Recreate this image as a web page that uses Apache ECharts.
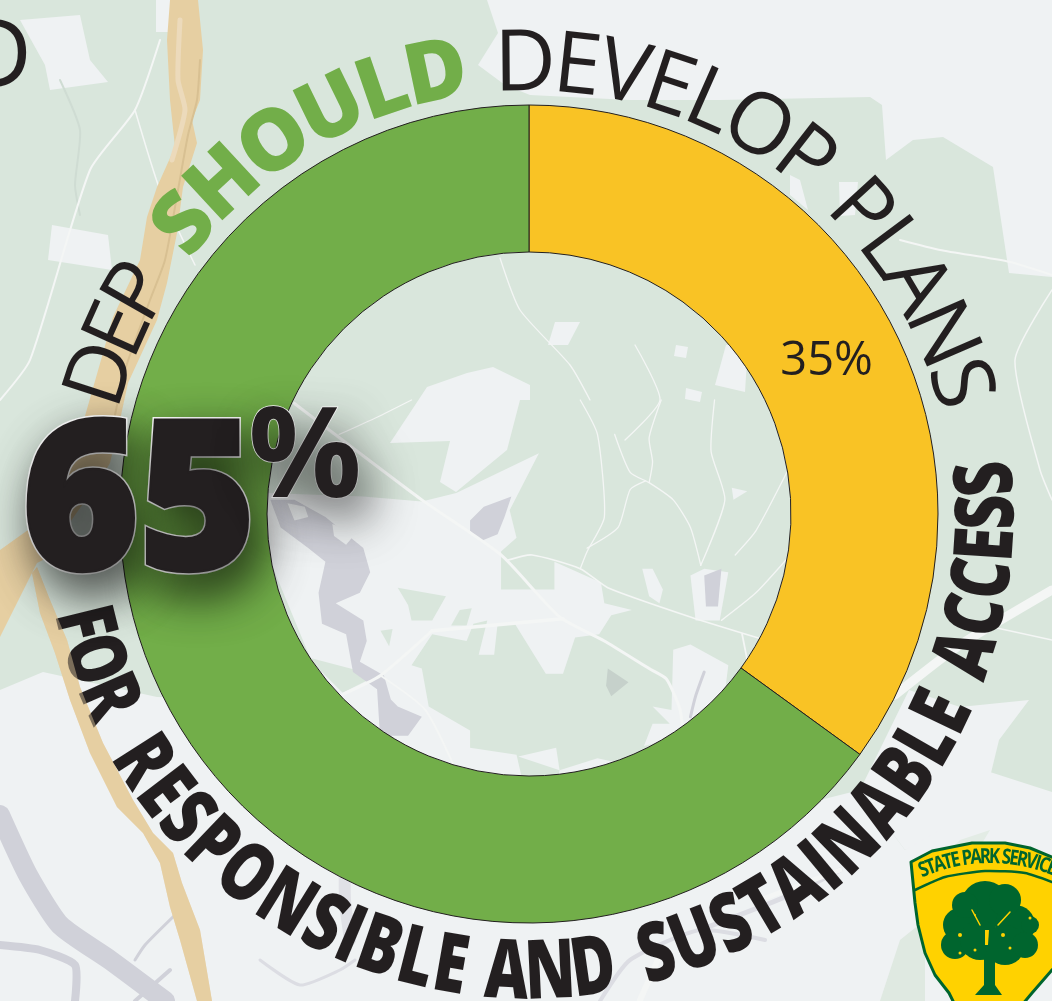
<!DOCTYPE html>
<html><head><meta charset="utf-8">
<style>html,body{margin:0;padding:0;background:#eff2f4;overflow:hidden}#c{width:1052px;height:1001px}</style>
<script src="https://cdn.jsdelivr.net/npm/echarts@6/dist/echarts.min.js"></script>
</head><body><div id="c"></div>
<script>
const categories = ['DEP should not', 'DEP should'];
const values = [35, 65];
const sliceColors = ['#f9c325', '#72ae49'];
const FACE = "'Open Sans'";
const cx = 529, cy = 514;
const ink = '#231f20';
const land = '#d9e6dc', pale = '#eff2f3', water = '#d0d1d9', tan = '#e6cfa2', leaf = '#00652e', gold = '#ffd200';

const g = [];
const ctx = document.createElement('canvas').getContext('2d');
function poly(points, fill, z, extra) {
  g.push({ type: 'polygon', silent: true, z: z === undefined ? -5 : z, shape: Object.assign({ points }, extra && extra.shape), style: Object.assign({ fill }, extra && extra.style) });
}
function line(points, stroke, lineWidth, z) {
  g.push({ type: 'polyline', silent: true, z: z === undefined ? -4 : z, shape: { points, smooth: 0.2 }, style: { fill: null, stroke, lineWidth, lineCap: 'round', lineJoin: 'round' } });
}
function circle(x, y, r, fill, z) {
  g.push({ type: 'circle', silent: true, z, shape: { cx: x, cy: y, r }, style: { fill } });
}
// The map inside the ring was traced on a 2.904x enlargement anchored at (260,400).
const hole = pts => pts.map(p => [260 + p[0] / 2.904, 400 + p[1] / 2.904]);
function arcWord(word, o) {
  const font = `${o.weight} ${o.size}px ${o.family}`;
  ctx.font = font;
  const sx = o.scaleX || 1;
  const adv = [...word].map(ch => ctx.measureText(ch).width * sx);
  const total = adv.reduce((s, v) => s + v, 0);
  let pos = 0;
  const ccx = o.cx === undefined ? cx : o.cx, ccy = o.cy === undefined ? cy : o.cy;
  [...word].forEach((ch, i) => {
    const t = (pos + adv[i] / 2) / total;
    const a = (o.a + (o.b - o.a) * t) * Math.PI / 180;
    pos += adv[i];
    const x = ccx + o.r * Math.sin(a);
    const y = o.below ? ccy + o.r * Math.cos(a) : ccy - o.r * Math.cos(a);
    g.push({ type: 'text', silent: true, z: o.z || 20, x, y, rotation: o.below ? a : -a, scaleX: sx,
      style: { text: ch, font, fill: o.fill, textAlign: 'center', textVerticalAlign: 'middle', verticalAlign: 'middle' } });
  });
}

/* ---------- map backdrop ---------- */
poly([[0,0],[487,0],[498,33],[478,65],[505,85],[530,95],[630,100],[720,100],[870,97],[882,105],[886,160],[913,140],[943,137],[993,167],[1009,273],[1052,277],[1052,792],[990,772],[960,800],[905,850],[860,790],[820,800],[600,850],[300,700],[157,697],[43,672],[0,690]], land);
// clearings outside the ring
poly([[20,20],[80,15],[90,60],[108,82],[50,90],[45,65]], pale);
poly([[52,225],[108,235],[112,270],[48,260]], pale);
poly([[156,0],[170,0],[170,32],[156,32]], pale);
poly([[1000,110],[1020,120],[1020,140],[1000,130]], pale);
poly([[839,182],[858,182],[855,215],[840,216]], pale);
poly([[790,175],[800,180],[808,210],[790,195]], pale);
poly([[909,690],[960,707],[1029,700],[999,740],[990,777],[940,830],[905,850],[860,790]], pale);
poly([[926,875],[960,840],[990,830],[960,880],[930,900]], '#e3ece5');
poly([[880,1001],[900,940],[925,920],[925,1001]], '#dfe9e1');
// clearings seen through the ring
poly([[390,443],[427,387],[467,373],[493,367],[530,385],[530,400],[520,400],[507,450],[456,492],[440,482],[450,441]], pale);
poly(hole([[20,270],[300,280],[470,295],[570,270],[810,155],[725,320],[745,400],[700,440],[700,550],[855,550],[855,470],[990,530],[1000,590],[1080,610],[1020,625],[985,680],[915,690],[880,795],[830,795],[740,650],[690,650],[680,740],[635,740],[660,640],[620,650],[600,700],[500,680],[440,770],[470,780],[490,890],[610,960],[610,1010],[745,1030],[770,1140],[400,1080],[200,880],[10,420]]), pale);
poly(hole([[860,1130],[870,1075],[980,1040],[1070,1060],[980,1110]]), pale);
poly(hole([[750,1035],[860,1010],[870,1075]]), pale);
poly(hole([[1115,1005],[1140,940],[1190,940],[1140,890],[1195,900],[1200,725],[1250,710],[1360,770],[1350,850],[1290,960]]), pale);
poly(hole([[1250,510],[1290,490],[1360,500],[1335,640],[1265,640]]), pale);
poly(hole([[1110,490],[1140,490],[1170,550],[1160,590],[1130,570]]), pale);
poly(hole([[830,700],[850,700],[850,760],[830,750]]), pale);
poly(hole([[1370,255],[1415,265],[1375,290]]), pale);
poly([[726,345],[748,345],[745,392],[715,385]], pale);
poly([[676,345],[688,347],[686,358],[674,356]], pale);
poly([[686,388],[702,392],[700,402],[685,399]], pale);
poly([[555,322],[580,322],[568,345],[548,345]], pale);
// green islands in the clearing
poly(hole([[400,545],[540,570],[500,640],[440,640],[430,595]]), land);
poly(hole([[350,670],[385,665],[375,715]]), land);
poly(hole([[130,745],[340,800],[240,850],[190,800]]), land);
poly(hole([[580,610],[615,605],[600,655],[555,655]]), land);
poly(hole([[445,765],[498,685],[470,770]]), land);
// water
poly(hole([[30,290],[100,290],[190,340],[300,430],[320,500],[290,560],[220,590],[300,640],[310,700],[290,760],[360,800],[380,870],[400,890],[470,920],[430,975],[380,975],[350,1000],[340,840],[270,790],[250,680],[180,650],[170,560],[190,470],[140,430],[60,370]]), water);
poly(hole([[610,350],[650,310],[730,280],[710,340],[690,390],[640,410],[610,380]]), water);
poly(hole([[1290,510],[1340,490],[1330,600],[1295,600]]), water);
poly(hole([[1010,780],[1070,820],[1020,860],[1005,830]]), '#c6d1cb');
poly(hole([[80,300],[130,310],[140,340],[100,350]]), pale);
poly(hole([[210,360],[280,385],[250,420],[215,395]]), pale);
line(hole([[1290,790],[1265,860],[1250,920]]), water, 3);
line([[0,815],[28,875],[60,925],[110,960],[165,1001]], water, 20);
line([[0,945],[40,950],[75,965],[75,1001]], water, 8);
line([[135,960],[145,945],[175,915]], water, 3);
line([[170,970],[135,1001]], water, 4);
line([[260,960],[300,985],[340,970],[355,960]], '#dcdde3', 3);
line([[600,1001],[630,960],[700,930],[765,940]], '#dcdde3', 4);
line([[700,930],[790,895],[840,870]], '#dcdde3', 5);
line([[345,840],[345,900],[350,940]], '#e0e1e6', 12);
line([[60,80],[80,130],[75,185],[80,215]], '#cfdcd3', 2);
// roads
const roadW = '#f4f6f5';
line([[160,40],[135,110],[90,170],[30,360],[0,400]], roadW, 2);
line([[135,110],[160,190],[195,265]], roadW, 1.5);
line(hole([[100,10],[470,290],[700,450],[870,630],[1000,700],[1130,780],[1180,810],[1220,900],[1230,1000]]), roadW, 3);
line(hole([[500,670],[880,635]]), roadW, 3.5);
line(hole([[500,670],[350,800],[240,855]]), roadW, 3);
line(hole([[350,800],[480,900],[580,1100]]), roadW, 2);
line(hole([[720,465],[790,450],[930,490],[1010,545],[1250,630],[1460,695]]), roadW, 1.6);
line(hole([[930,0],[980,100],[1000,340],[950,440],[930,490]]), roadW, 1.3);
line(hole([[950,430],[1040,370],[1075,260],[1120,235]]), roadW, 1.3);
line(hole([[1030,100],[1075,210],[1130,240],[1200,290],[1250,370],[1280,480]]), roadW, 1.3);
line(hole([[1165,0],[1130,110],[1140,180],[1130,240]]), roadW, 1.3);
line(hole([[1320,0],[1310,150],[1350,290],[1280,480]]), roadW, 1.3);
line(hole([[1340,640],[1440,560],[1540,450]]), roadW, 1.3);
line(hole([[1380,450],[1440,380],[1530,210]]), roadW, 1.3);
line(hole([[1400,680],[1420,780]]), roadW, 1.8);
line(hole([[230,100],[340,50],[440,0]]), roadW, 1.3);
line([[500,258],[520,310],[570,365],[590,400]], roadW, 1.3);
line([[635,345],[660,400],[625,440]], roadW, 1.3);
line([[900,240],[940,250],[1010,262],[1052,275]], roadW, 2);
line([[1052,290],[1015,360],[1040,470],[1052,500]], roadW, 1.5);
line([[960,620],[1052,640]], roadW, 1.5);
line([[895,695],[960,645],[1052,590]], roadW, 9);
line([[840,870],[760,900]], roadW, 5);
line([[640,1000],[660,955]], roadW, 6);

// tan ridgeline
poly([[170,0],[167,40],[170,100],[175,147],[157,187],[147,217],[140,260],[113,317],[103,353],[83,423],[43,467],[28,530],[0,550],[0,637],[37,563],[43,560],[100,480],[110,463],[120,420],[128,383],[157,320],[167,283],[177,233],[183,187],[197,143],[192,120],[200,100],[203,50],[198,0]], tan, -3);
const lowerRidge = [[32,573],[40,613],[55,653],[70,700],[90,753],[117,807],[143,833],[160,863],[170,907],[180,940],[197,1001],[212,1001],[200,930],[182,883],[173,853],[153,833],[133,800],[103,743],[80,687],[67,640],[50,600],[37,567]];
poly(lowerRidge, tan, -3);
poly(lowerRidge, tan, 25, { style: { opacity: 0.45 } });
line([[200,60],[197,100],[188,135],[178,190],[165,260],[150,300],[125,370],[112,430]], '#d8c092', 2, -2);
line([[180,20],[178,80],[185,110],[172,160]], '#ecdabb', 5, -2);

/* ---------- lettering around the ring ---------- */
const topWords = ['DEP', 'SHOULD', 'DEVELOP', 'PLANS'];
const topSpans = [[-75.3, -57.5], [-53, -8], [-4.3, 41], [44.5, 76]];
const bottomWords = ['FOR', 'RESPONSIBLE', 'AND', 'SUSTAINABLE', 'ACCESS'];
const bottomSpans = [[-78, -64], [-60, -7.7], [-5.3, 10.6], [14, 66.5], [69.6, 96.5]];
topWords.forEach((w, i) => arcWord(w, { a: topSpans[i][0], b: topSpans[i][1], r: 448, size: 85,
  weight: w === 'SHOULD' ? 800 : 400, family: FACE, fill: w === 'SHOULD' ? sliceColors[1] : ink }));
bottomWords.forEach((w, i) => arcWord(w, { a: bottomSpans[i][0], b: bottomSpans[i][1], r: 461, size: 82, scaleX: 0.74,
  weight: 800, family: FACE, fill: ink, below: true }));

g.push({ type: 'text', silent: true, z: 20, x: 32, y: 60, style: { text: 'D', font: `400 95px ${FACE}`, fill: ink, textAlign: 'right', verticalAlign: 'middle', textVerticalAlign: 'middle' } });

// headline figure: a halo and shadow layer, then a fattened figure on top
const shadow = { textShadowColor: 'rgba(0,0,0,0.72)', textShadowBlur: 46, textShadowOffsetX: 10, textShadowOffsetY: 20 };
const headline = String(values[1]);
const bigBase = { text: headline, font: `800 208px ${FACE}`, fill: ink, textAlign: 'center', verticalAlign: 'middle', textVerticalAlign: 'middle' };
g.push({ type: 'text', silent: true, z: 30, x: 139, y: 510, scaleX: 0.96, style: Object.assign({}, bigBase, { stroke: '#ffffff', lineWidth: 7.5 }, shadow) });
g.push({ type: 'text', silent: true, z: 31, x: 139, y: 510, scaleX: 0.96, style: Object.assign({}, bigBase, { stroke: ink, lineWidth: 4.5 }) });
g.push({ type: 'text', silent: true, z: 32, x: 305, y: 461, style: Object.assign({ text: '%', font: `700 126px ${FACE}`, fill: ink, stroke: '#ffffff', lineWidth: 1.5, textAlign: 'center', verticalAlign: 'middle', textVerticalAlign: 'middle' }, shadow) });

/* ---------- park service shield ---------- */
poly([[911,862],[932,851],[972,843],[1005,843],[1030,848],[1052,857],[1075,870],[1075,950],[1052,970],[1032,993],[1022,1005],[955,1005],[949,993],[935,975],[925,953],[918,925],[915,903]], gold, 40, { style: { stroke: leaf, lineWidth: 3, lineJoin: 'round' } });
line([[915,890],[945,877],[985,871],[1025,873],[1052,882]], leaf, 2.5, 41);
[[985,905,24],[960,925,17],[1015,925,20],[955,945,14],[980,940,20],[1005,945,20],[1025,945,13],[1030,925,9],[965,905,13],[1005,900,16]].forEach(c => circle(c[0], c[1], c[2], leaf, 41));
poly([[984,955],[995,955],[995,985],[1002,995],[975,995],[984,985]], leaf, 41);
line([[972,910],[980,925]], gold, 1.5, 42);
line([[998,925],[1010,912]], gold, 1.5, 42);
poly([[985,930],[989,930],[988,945],[985,945]], gold, 42);
[[960,935,2],[975,915,1],[1003,935,2],[1010,948,1.5],[960,953,1.5],[975,950,1.5],[1030,918,1.5]].forEach(c => circle(c[0], c[1], c[2], gold, 42));
arcWord('STATE PARK SERVICE', { a: -24, b: 22.5, r: 171, cx: 990, cy: 1028, size: 21, scaleX: 0.8, weight: 700, family: FACE, fill: leaf, z: 42 });

const chart = echarts.init(document.getElementById('c'), null, { renderer: 'canvas' });
chart.setOption({
  animation: false,
  backgroundColor: pale,
  graphic: { elements: g },
  series: [{
    type: 'pie',
    z: 10,
    center: [cx, cy],
    radius: [262, 409],
    startAngle: 90,
    clockwise: true,
    silent: true,
    itemStyle: { borderColor: ink, borderWidth: 1 },
    labelLine: { show: false },
    label: { show: false },
    data: categories.map((name, i) => ({
      name, value: values[i],
      itemStyle: { color: sliceColors[i] },
      label: i === 0 ? { show: true, position: 'inside', offset: [-4, 1], formatter: '{c}%', fontFamily: FACE, fontWeight: 400, fontSize: 47, color: ink } : { show: false }
    }))
  }]
});
</script></body></html>
